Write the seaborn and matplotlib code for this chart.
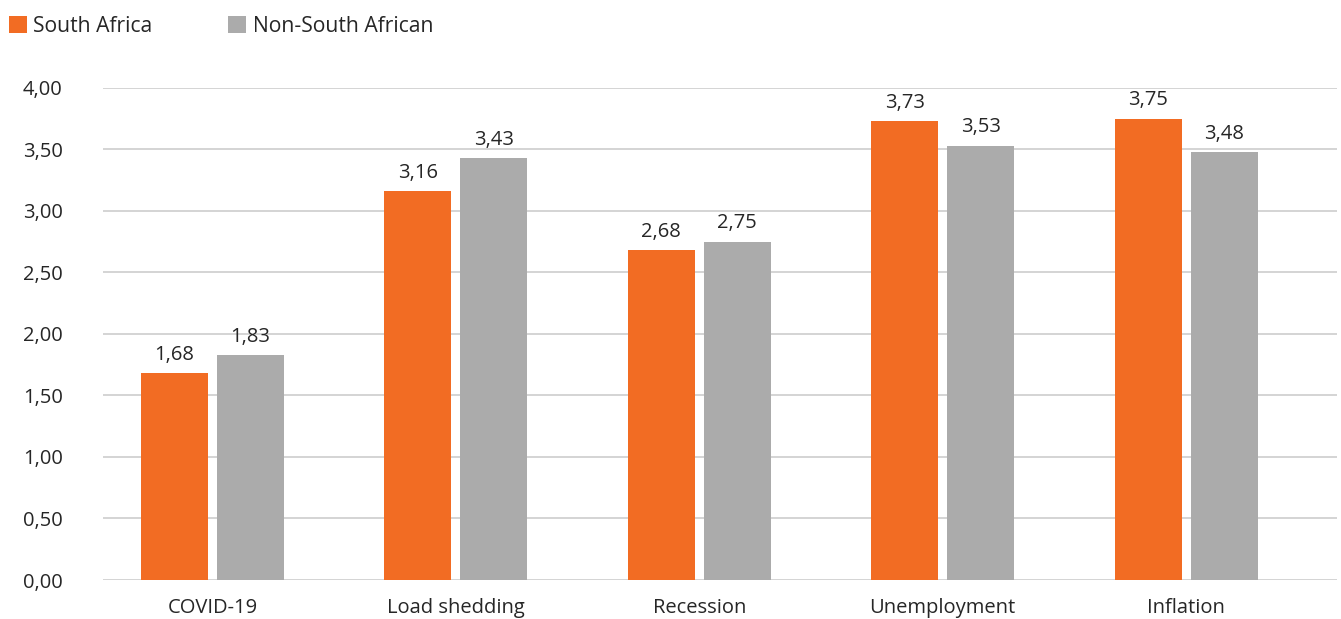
import matplotlib
matplotlib.use("Agg")
import matplotlib.pyplot as plt
from matplotlib.patches import Patch
import seaborn as sns
import pandas as pd

categories = ["COVID-19", "Load shedding", "Recession", "Unemployment", "Inflation"]
south_africa = [1.68, 3.16, 2.68, 3.73, 3.75]
non_south_african = [1.83, 3.43, 2.75, 3.53, 3.48]
series_names = ["South Africa", "Non-South African"]
y_ticks = [0.0, 0.5, 1.0, 1.5, 2.0, 2.5, 3.0, 3.5, 4.0]

colors = ["#F26C23", "#ABABAB"]
text_color = "#262626"
fs = 14.5

df = pd.DataFrame({
    "category": categories * 2,
    "series": [series_names[0]] * len(categories) + [series_names[1]] * len(categories),
    "value": south_africa + non_south_african,
})

sns.set_theme(style="white")
plt.rcParams["font.family"] = ["Open Sans", "DejaVu Sans"]

fig = plt.figure(figsize=(13.41, 6.19), dpi=100)
ax = fig.add_axes([0.0768, 0.063, 0.9202, 0.795])

sns.barplot(data=df, x="category", y="value", hue="series", order=categories,
            hue_order=series_names, palette=colors, width=0.625, gap=0.12,
            saturation=1, legend=False, linewidth=0, ax=ax)

for container in ax.containers:
    labels = [f"{b.get_height():.2f}".replace(".", ",") for b in container]
    ax.bar_label(container, labels=labels, padding=6, fontsize=fs, color=text_color)

ax.set_ylim(0, 4)
ax.set_xlim(-0.45, 4.62)
ax.set_yticks(y_ticks)
ax.set_yticklabels([f"{t:.2f}".replace(".", ",") for t in y_ticks])
ax.yaxis.grid(True, color="#C9C9C9", linewidth=1.1)
ax.set_axisbelow(True)
ax.set_xlabel("")
ax.set_ylabel("")
for s in ["top", "right", "left", "bottom"]:
    ax.spines[s].set_visible(False)
ax.tick_params(axis="y", length=0, pad=29, labelsize=fs, labelcolor=text_color)
ax.tick_params(axis="x", length=0, pad=13, labelsize=fs, labelcolor=text_color)

handles = [Patch(facecolor=c, edgecolor="none") for c in colors]
fig.legend(handles, series_names, loc="upper left", bbox_to_anchor=(-0.0075, 1.005),
           ncol=2, frameon=False, fontsize=15.2, handlelength=0.85, handleheight=0.85,
           handletextpad=0.3, columnspacing=3.6, labelcolor=text_color)

fig.savefig("out.png", dpi=100)
